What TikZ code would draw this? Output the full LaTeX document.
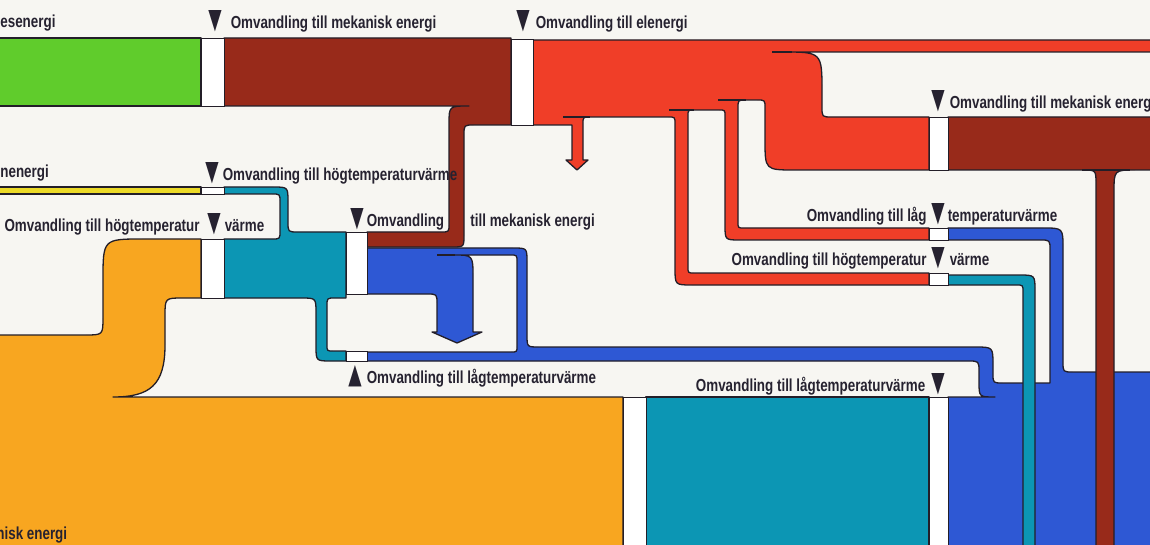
\documentclass[tikz,border=0pt]{standalone}
\usepackage{fontspec}
\setmainfont{Liberation Sans}[FakeStretch=0.77]
\newfontfamily\markfont{DejaVu Sans}[FakeStretch=0.62]
\definecolor{paper}{RGB}{247,246,242}
\definecolor{ink}{RGB}{38,34,48}
\definecolor{edge}{RGB}{35,30,40}
\definecolor{leafgreen}{RGB}{96,204,44}
\definecolor{rust}{RGB}{152,42,26}
\definecolor{flame}{RGB}{240,62,40}
\definecolor{sun}{RGB}{236,218,40}
\definecolor{petrol}{RGB}{12,150,180}
\definecolor{cobalt}{RGB}{46,88,212}
\definecolor{amber}{RGB}{248,166,32}
\newcommand{\dnmark}{{\markfont\fontsize{14}{14}\selectfont ▼}}
\newcommand{\upmark}{{\markfont\fontsize{14}{14}\selectfont ▲}}

\begin{document}
\begin{tikzpicture}[x=0.5pt, y=-0.5pt,
    flow/.style={draw=edge, line width=0.65pt, line join=round},
    gapbox/.style={fill=white, draw=edge, line width=0.35pt},
    tail/.style={draw=edge, line width=0.65pt},
    lbl/.style={inner sep=0pt, text=ink, font=\bfseries\fontsize{8.7}{10}\selectfont}]
  % Page
  \useasboundingbox (0,0) rectangle (1150,545);
  \clip (0,0) rectangle (1150,545);
  \fill[paper] (0,0) rectangle (1150,545);

  % Green and yellow inputs
  \filldraw[flow, fill=leafgreen] (-10,38) rectangle (201,106);
  \filldraw[flow, fill=sun] (-10,187) rectangle (201,194);

  % Brown block with its stream down to the strip
  \filldraw[flow, fill=rust] (224,38) -- (511,38) -- (511,125) -- (474,125) .. controls (464,125) .. (464,135)
    -- (464,235) .. controls (464,247) .. (452,247) -- (367,247) -- (367,232) -- (441,232) .. controls (449,232) .. (449,224)
    -- (449,124) .. controls (449,106) .. (469,106) -- (224,106) -- cycle;

  % Red block, its arrow and its three flows
  \filldraw[flow, fill=flame] (533,40) -- (1160,40) -- (1160,52) -- (782,52) .. controls (822,52) .. (822,92)
    -- (822,107) .. controls (822,117) .. (832,117) -- (929,117) -- (929,170) -- (795,170) .. controls (765,170) .. (765,140)
    -- (765,108) .. controls (765,100) .. (757,100) -- (746,100) .. controls (738,100) .. (738,108)
    -- (738,222) .. controls (738,228) .. (744,228) -- (929,228) -- (929,240) -- (740,240) .. controls (725,240) .. (725,225)
    -- (725,116) .. controls (725,110) .. (719,110) -- (694,110) .. controls (688,110) .. (688,116)
    -- (688,267) .. controls (688,273) .. (694,273) -- (929,273) -- (929,285) -- (692,285) .. controls (675,285) .. (675,268)
    -- (675,124) .. controls (675,117) .. (668,117) -- (590,117) .. controls (583,117) .. (583,124)
    -- (583,160) -- (588,160) -- (577,170) -- (566,160) -- (572,160) -- (572,125) -- (533,125) -- cycle;

  % Orange block
  \filldraw[flow, fill=amber] (-10,335) -- (85,335) .. controls (103,335) .. (103,317) -- (103,280) .. controls (103,239) .. (143,239)
    -- (201,239) -- (201,298) -- (183,298) .. controls (165,298) .. (165,316) -- (165,345)
    .. controls (165,385) and (150,397) .. (113,397) -- (623,397) -- (623,560) -- (-10,560) -- cycle;

  % Teal block with its two thin flows
  \filldraw[flow, fill=petrol] (224,187) -- (273,187) .. controls (288,187) .. (288,202) -- (288,222) .. controls (288,232) .. (298,232)
    -- (346,232) -- (346,298) -- (335,298) .. controls (327,298) .. (327,306) -- (327,345) .. controls (327,351) .. (333,351)
    -- (346,351) -- (346,361) -- (331,361) .. controls (316,361) .. (316,346) -- (316,313) .. controls (316,298) .. (301,298)
    -- (224,298) -- (224,239) -- (272,239) .. controls (280,239) .. (280,231) -- (280,202) .. controls (280,194) .. (272,194)
    -- (224,194) -- cycle;
  \filldraw[flow, fill=petrol] (646,397) rectangle (929,560);

  % Blue region: arrow, band and the right block
  \filldraw[flow, fill=cobalt] (367,248) -- (513,248) .. controls (527,248) .. (527,262)
    -- (527,335) .. controls (527,347) .. (539,347) -- (975,347) .. controls (993,347) .. (993,365)
    -- (993,374) .. controls (993,383) .. (1003,383) -- (1050,383) -- (1050,250) .. controls (1050,240) .. (1040,240)
    -- (948,240) -- (948,228) -- (1043,228) .. controls (1063,228) .. (1063,248)
    -- (1063,362) .. controls (1063,372) .. (1073,372) -- (1160,372) -- (1160,560) -- (948,560) -- (948,397)
    -- (995,397) .. controls (979,397) .. (979,382) -- (979,372) .. controls (979,361) .. (968,361)
    -- (367,361) -- (367,352) -- (511,352) .. controls (517,352) .. (517,346)
    -- (517,262) .. controls (517,255) .. (510,255) -- (453,255) .. controls (473,255) .. (473,277)
    -- (473,332) -- (482,332) -- (457,343) -- (432,332) -- (437,332)
    -- (437,304) .. controls (437,294) .. (427,294) -- (367,294) -- cycle;

  % Teal column on the right
  \filldraw[flow, fill=petrol] (948,275) -- (1019,275) .. controls (1035,275) .. (1035,291) -- (1035,560)
    -- (1023,560) -- (1023,292) .. controls (1023,285) .. (1016,285) -- (948,285) -- cycle;

  % Brown block on the right and its column
  \filldraw[flow, fill=rust] (948,117) -- (1160,117) -- (1160,170) -- (1136,170) .. controls (1114,170) .. (1114,192)
    -- (1114,560) -- (1096,560) -- (1096,184) .. controls (1096,170) .. (1082,170) -- (948,170) -- cycle;

  % Conversion gaps
  \foreach \xa/\ya/\xb/\yb in {201/38/224/106, 511/39/533/125, 201/187/224/194, 201/239/224/298,
      346/232/367/294, 346/351/367/361, 929/117/948/170, 929/228/948/240, 929/273/948/285,
      623/397/646/560, 929/397/948/560}
    \filldraw[gapbox] (\xa,\ya) rectangle (\xb,\yb);

  % Edge tails running into the blocks
  \draw[tail] (772,52) -- (792,52);
  \draw[tail] (718,100) -- (746,100);
  \draw[tail] (669,110) -- (694,110);
  \draw[tail] (563,117) -- (590,117);
  \draw[tail] (437,255) -- (455,255);
  \draw[tail] (1082,170) -- (1130,170);

  % Labels
  \node[lbl, anchor=base west] (tSol) at (0,28) {esenergi};
  \node[lbl, anchor=base west] (tMekA) at (208,29) {\dnmark\hspace{4.5pt}Omvandling till mekanisk energi};
  \node[lbl, anchor=base west] (tEl) at (516,29) {\dnmark\hspace{3pt}Omvandling till elenergi};
  \node[lbl, anchor=base west] (tNe) at (0,178) {nenergi};
  \node[lbl, anchor=base west] (tHogA) at (205,181) {\dnmark\hspace{2pt}Omvandling till högtemperaturvärme};
  \node[lbl, anchor=base east] (tHogB) at (200,232) {Omvandling till högtemperatur};
  \node[lbl, anchor=base west] (tHogBm) at (207,232) {\dnmark\hspace{2pt}värme};
  \node[lbl, anchor=base west] (tOmv) at (350,227) {\dnmark\hspace{1.5pt}Omvandling};
  \node[lbl, anchor=base west] (tTill) at (470,227) {till mekanisk energi};
  \node[lbl, anchor=base west] (tLagA) at (348,383) {\upmark\hspace{2.5pt}Omvandling till lågtemperaturvärme};
  \node[lbl, anchor=base east] (tLagB) at (945,391) {Omvandling till lågtemperaturvärme\hspace{3pt}\dnmark};
  \node[lbl, anchor=base west] (tMekB) at (931,109) {\dnmark\hspace{2.5pt}Omvandling till mekanisk energi};
  \node[lbl, anchor=base east] (tLagC) at (927,221) {Omvandling till låg};
  \node[lbl, anchor=base west] (tLagCm) at (931,221) {\dnmark\hspace{1.5pt}temperaturvärme};
  \node[lbl, anchor=base east] (tHogC) at (927,265) {Omvandling till högtemperatur};
  \node[lbl, anchor=base west] (tHogCm) at (931,265) {\dnmark\hspace{2.5pt}värme};
  \node[lbl, anchor=base west] (tMekC) at (-4,539) {nisk energi};
\end{tikzpicture}
\end{document}
